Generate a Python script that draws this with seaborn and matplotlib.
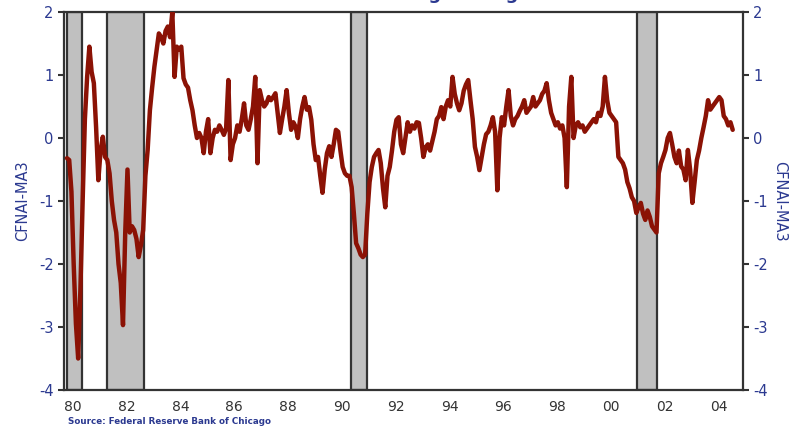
import numpy as np
import pandas as pd
import seaborn as sns
import matplotlib
matplotlib.use("Agg")
from matplotlib import pyplot as plt
from matplotlib import transforms

# monthly CFNAI-MA3 values, Jan 1980 .. Oct 2004
cfnai_1980s = [
    -0.32, -0.35, -0.85, -2.0, -2.95, -3.5, -2.4, -1.0, 0.3, 0.97, 1.45, 1.05,   # 1980
    0.87, 0.17, -0.67, -0.2, 0.02, -0.3, -0.35, -0.56, -1.0, -1.3, -1.5, -2.0,   # 1981
    -2.3, -2.97, -1.5, -0.5, -1.5, -1.4, -1.46, -1.6, -1.89, -1.7, -1.46, -0.6,  # 1982
    -0.19, 0.44, 0.8, 1.13, 1.4, 1.66, 1.6, 1.5, 1.7, 1.77, 1.6, 2.0,            # 1983
    0.97, 1.45, 1.4, 1.45, 0.95, 0.85, 0.8, 0.6, 0.44, 0.2, 0.0, 0.08,           # 1984
    0.0, -0.24, 0.1, 0.3, -0.24, 0.0, 0.13, 0.1, 0.2, 0.13, 0.05, 0.15,          # 1985
    0.92, -0.35, -0.1, 0.0, 0.2, 0.1, 0.3, 0.55, 0.2, 0.13, 0.3, 0.5,            # 1986
    0.97, -0.4, 0.76, 0.6, 0.5, 0.55, 0.65, 0.6, 0.65, 0.71, 0.4, 0.08,          # 1987
    0.3, 0.5, 0.76, 0.4, 0.13, 0.25, 0.18, 0.0, 0.3, 0.5, 0.65, 0.45,            # 1988
    0.49, 0.29, -0.1, -0.35, -0.3, -0.6, -0.87, -0.5, -0.24, -0.13, -0.3, -0.1,  # 1989
]
cfnai_1990s = [
    0.13, 0.1, -0.2, -0.46, -0.56, -0.6, -0.6, -0.78, -1.2, -1.67, -1.75, -1.85,  # 1990
    -1.89, -1.85, -1.2, -0.7, -0.46, -0.3, -0.24, -0.19, -0.4, -0.8, -1.1, -0.6,  # 1991
    -0.46, -0.2, 0.1, 0.29, 0.33, -0.1, -0.24, 0.0, 0.25, 0.1, 0.2, 0.15,         # 1992
    0.25, 0.24, 0.0, -0.3, -0.15, -0.1, -0.2, -0.05, 0.1, 0.3, 0.35, 0.49,        # 1993
    0.3, 0.5, 0.6, 0.5, 0.97, 0.7, 0.55, 0.44, 0.55, 0.75, 0.85, 0.92,            # 1994
    0.6, 0.3, -0.14, -0.3, -0.51, -0.3, -0.1, 0.06, 0.1, 0.2, 0.33, 0.1,          # 1995
    -0.83, 0.0, 0.33, 0.2, 0.5, 0.76, 0.35, 0.2, 0.3, 0.35, 0.43, 0.5,            # 1996
    0.6, 0.4, 0.45, 0.5, 0.65, 0.5, 0.55, 0.6, 0.7, 0.75, 0.87, 0.6,              # 1997
    0.4, 0.3, 0.2, 0.25, 0.15, 0.2, 0.0, -0.78, 0.5, 0.97, 0.0, 0.2,              # 1998
    0.25, 0.17, 0.2, 0.1, 0.15, 0.2, 0.25, 0.3, 0.25, 0.4, 0.35, 0.5,             # 1999
]
cfnai_2000s = [
    0.97, 0.6, 0.4, 0.35, 0.3, 0.25, -0.3, -0.35, -0.4, -0.5, -0.7, -0.8,         # 2000
    -0.94, -1.0, -1.19, -1.1, -1.03, -1.2, -1.3, -1.15, -1.25, -1.4, -1.45, -1.5, # 2001
    -0.56, -0.4, -0.3, -0.19, 0.0, 0.08, -0.1, -0.3, -0.4, -0.2, -0.45, -0.5,     # 2002
    -0.67, -0.19, -0.5, -1.03, -0.7, -0.35, -0.2, 0.0, 0.17, 0.35, 0.6, 0.45,     # 2003
    0.5, 0.55, 0.6, 0.65, 0.6, 0.35, 0.3, 0.2, 0.25, 0.13,                        # 2004
]

# NBER recessions (decimal years)
recession_start = [1980.0, 1981.5, 1990.55, 2001.2]
recession_end = [1980.55, 1982.87, 1991.17, 2001.95]

year_ticks = list(range(1980, 2005))
year_labels = [f"{y % 100:02d}" if y % 2 == 0 else "" for y in year_ticks]
y_ticks = [-4, -3, -2, -1, 0, 1, 2]

values = cfnai_1980s + cfnai_1990s + cfnai_2000s
df = pd.DataFrame({"t": [1980 + i / 12 for i in range(len(values))], "cfnai": values})

blue = "#2B3990"
spine = "#333333"

sns.set_style("white")
fig = plt.figure(figsize=(7.95, 4.32), dpi=100)
ax = fig.add_axes([0.0805, 0.0972, 0.854, 0.875])

for s, e in zip(recession_start, recession_end):
    ax.axvspan(s, e, facecolor="#C0C0C0", edgecolor=spine, linewidth=1.6, zorder=1)

sns.lineplot(data=df, x="t", y="cfnai", ax=ax, color="#8B1205", linewidth=3.2, zorder=3)

ax.set_xlim(1979.89, 2005.13)
ax.set_ylim(-4, 2)
ax.set_xticks(year_ticks)
ax.set_xticklabels(year_labels, color="#333333", fontsize=10)
ax.set_yticks(y_ticks)
ax.set_yticklabels([str(v) for v in y_ticks], color=blue, fontsize=10.5)
ax.tick_params(axis="both", direction="out", length=4, width=1.5, color=spine)
ax.set_xlabel("")
ax.set_ylabel("CFNAI-MA3", color=blue, fontsize=10.5, labelpad=6)

# shift x labels slightly right like the original
offset = transforms.ScaledTranslation(6 / 100, 0, fig.dpi_scale_trans)
for lab in ax.get_xticklabels():
    lab.set_transform(lab.get_transform() + offset)

for side in ["top", "bottom", "left", "right"]:
    ax.spines[side].set_visible(True)
    ax.spines[side].set_color(spine)
    ax.spines[side].set_linewidth(1.6)

ax2 = ax.twinx()
ax2.set_ylim(-4, 2)
ax2.set_yticks(y_ticks)
ax2.set_yticklabels([str(v) for v in y_ticks], color=blue, fontsize=10.5)
ax2.tick_params(axis="y", direction="out", length=4, width=1.5, color=spine)
ax2.set_ylabel("CFNAI-MA3", color=blue, fontsize=10.5, rotation=270, labelpad=14)
for side in ["top", "bottom", "left", "right"]:
    ax2.spines[side].set_visible(False)

fig.text(0.086, 0.018, "Source: Federal Reserve Bank of Chicago", color=blue,
         fontsize=6.3, fontweight="bold")
fig.text(0.437, 1.003, "CFNAI Three-Month Moving Average", color=blue,
         fontsize=13, fontweight="bold", ha="center", va="baseline")

fig.savefig("out.png", dpi=100)
